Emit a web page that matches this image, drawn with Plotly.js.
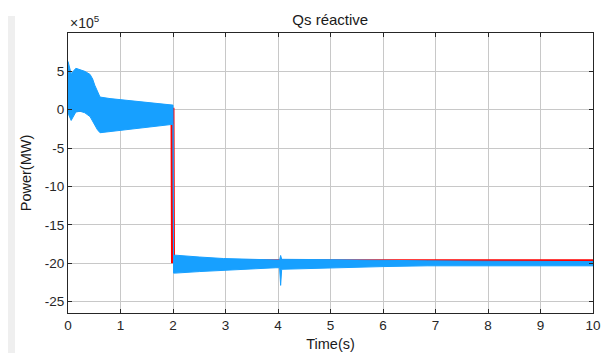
<!DOCTYPE html>
<html><head><meta charset="utf-8">
<script src="https://cdn.plot.ly/plotly-3.0.1.min.js"></script>
<style>html,body{margin:0;padding:0;background:#fff}#chart{width:606px;height:353px}</style>
</head><body><div id="chart"></div>
<script>
// Values in units of 1e5 (axis multiplier shown as ×10^5)
const bandTime  = [0, 0.01, 0.06, 0.15, 0.23, 0.32, 0.42, 0.47, 0.51, 0.56, 0.61, 0.8, 1.2, 1.6, 2.0, 2.01, 2.04, 2.5, 2.96, 3.5, 3.96, 4.03, 4.05, 4.07, 5.0, 6.0, 6.84, 8.0, 9.0, 10.0];
const bandUpper = [6.3, 6.0, 4.7, 5.4, 5.2, 5.0, 4.6, 4.0, 3.2, 2.4, 1.65, 1.45, 1.15, 0.85, 0.6, -19.0, -18.96, -19.2, -19.4, -19.5, -19.6, -19.6, -19.0, -19.5, -19.55, -19.65, -19.7, -19.75, -19.8, -19.8];
const bandLower = [-0.1, -0.6, -1.4, -0.3, -0.2, -0.4, -0.9, -1.4, -2.0, -2.6, -3.0, -2.8, -2.5, -2.2, -1.9, -21.3, -21.3, -21.1, -20.9, -20.75, -20.6, -20.6, -22.9, -20.8, -20.6, -20.45, -20.35, -20.35, -20.35, -20.35];
const refTime  = [0, 1.99, 2.0, 10.0];
const refValue = [0, 0, -19.75, -19.75];
const xTicks = [0,1,2,3,4,5,6,7,8,9,10];
const yTicks = [5,0,-5,-10,-15,-20,-25];

const polyX = bandTime.concat(bandTime.slice().reverse());
const polyY = bandUpper.concat(bandLower.slice().reverse());

const traces = [
  {x: refTime, y: refValue, type:'scatter', mode:'lines', line:{color:'#ff0000', width:4}, hoverinfo:'skip'},
  {x: polyX, y: polyY, type:'scatter', mode:'lines', fill:'toself', fillcolor:'#17a0ff', line:{color:'#17a0ff', width:1}, hoverinfo:'skip'}
];

const FONT = 'Liberation Sans, Arial, sans-serif';
const axisCommon = {
  showline:true, linecolor:'#262626', linewidth:1, mirror:'ticks',
  ticks:'inside', ticklen:4, tickcolor:'#262626',
  showgrid:true, gridcolor:'#c8c8c8', gridwidth:1, zeroline:false,
  tickfont:{family:FONT, size:13.5, color:'#262626'}
};

const layout = {
  width:606, height:353,
  margin:{l:68, r:13, t:33, b:40},
  paper_bgcolor:'#ffffff', plot_bgcolor:'#ffffff',
  showlegend:false,
  title:{text:'Qs réactive', x:0.545, xanchor:'center', y:1-20/353, yanchor:'middle', yref:'container',
         font:{family:FONT, size:15, color:'#1a1a1a'}},
  xaxis:Object.assign({}, axisCommon, {range:[0,10], tickvals:xTicks, ticktext:xTicks.map(String),
    title:{text:'Time(s)', standoff:6, font:{family:FONT, size:14.5, color:'#1a1a1a'}}}),
  yaxis:Object.assign({}, axisCommon, {range:[-26.5,10], tickvals:yTicks, ticktext:yTicks.map(String),
    title:{text:'Power(MW)', standoff:9, font:{family:FONT, size:14.5, color:'#1a1a1a'}}}),
  annotations:[
    {xref:'paper', yref:'paper', x:0, y:1, xanchor:'left', yanchor:'bottom', yshift:0, showarrow:false,
     text:'×10<sup>5</sup>', font:{family:FONT, size:14, color:'#262626'}}
  ],
  shapes:[
    {type:'rect', xref:'paper', yref:'paper', x0:-60/525, x1:-53/525, y0:-40/280, y1:(353-16-40)/280,
     fillcolor:'#efefef', line:{width:0}, layer:'below'}
  ]
};

Plotly.newPlot('chart', traces, layout, {displayModeBar:false, staticPlot:true});
</script></body></html>
